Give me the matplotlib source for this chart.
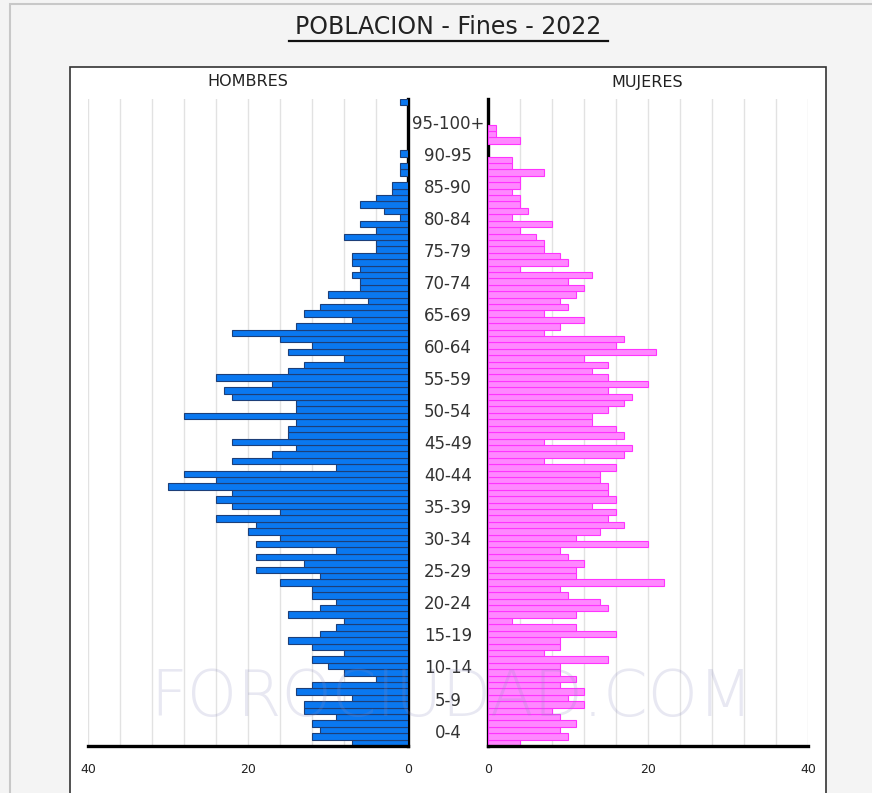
import numpy as np
import matplotlib.pyplot as plt
from matplotlib.patches import Rectangle
from matplotlib.lines import Line2D

# population by single year of age, 0 .. 100+
ages = np.arange(0, 101)
hombres = [7, 12, 11, 12, 9, 13, 13, 7, 14, 12,
           4, 8, 10, 12, 8, 12, 15, 11, 9, 8,
           15, 11, 9, 12, 12, 16, 11, 19, 13, 19,
           9, 19, 16, 20, 19, 24, 16, 22, 24, 22,
           30, 24, 28, 9, 22, 17, 14, 22, 15, 15,
           14, 28, 14, 14, 22, 23, 17, 24, 15, 13,
           8, 15, 12, 16, 22, 14, 7, 13, 11, 5,
           10, 6, 6, 7, 6, 7, 7, 4, 4, 8,
           4, 6, 1, 3, 6, 4, 2, 2, 0, 1,
           1, 0, 1, 0, 0, 0, 0, 0, 0, 0,
           1]
mujeres = [4, 10, 9, 11, 9, 8, 12, 10, 12, 9,
           11, 9, 9, 15, 7, 9, 9, 16, 11, 3,
           11, 15, 14, 10, 9, 22, 11, 11, 12, 10,
           9, 20, 11, 14, 17, 15, 16, 13, 16, 15,
           15, 14, 14, 16, 7, 17, 18, 7, 17, 16,
           13, 13, 15, 17, 18, 15, 20, 15, 13, 15,
           12, 21, 16, 17, 7, 9, 12, 7, 10, 9,
           11, 12, 10, 13, 4, 10, 9, 7, 7, 6,
           4, 8, 3, 5, 4, 4, 3, 4, 4, 7,
           3, 3, 0, 0, 4, 1, 1, 0, 0, 0,
           0]
grupos = ['0-4', '5-9', '10-14', '15-19', '20-24', '25-29', '30-34', '35-39',
          '40-44', '45-49', '50-54', '55-59', '60-64', '65-69', '70-74', '75-79',
          '80-84', '85-90', '90-95', '95-100+']

W, H = 872, 793
fig = plt.figure(figsize=(W / 100, H / 100), dpi=100, facecolor='#f4f4f4')

# outer frame and white panel (behind the axes)
fig.add_artist(Rectangle((10 / W, -0.01), 1, 1 - 4 / H + 0.01, transform=fig.transFigure,
                         facecolor='#f4f4f4', edgecolor='#c8c8c8', lw=1.5, zorder=-3))
fig.add_artist(Rectangle((70 / W, -0.01), 756 / W, (H - 67) / H + 0.01, transform=fig.transFigure,
                         facecolor='white', edgecolor='#333333', lw=1.2, zorder=-2))

fig.text(448 / W, 1 - 27 / H, 'POBLACION - Fines - 2022', ha='center', va='center',
         fontsize=17, color='#222222')
fig.add_artist(Line2D([289 / W, 608 / W], [1 - 41 / H, 1 - 41 / H], transform=fig.transFigure,
                      color='#111111', lw=1.6))

bot = (H - 746) / H
top = (H - 99) / H
axl = fig.add_axes([88 / W, bot, 320 / W, top - bot])
axr = fig.add_axes([488 / W, bot, 320 / W, top - bot])

# no outline on empty ages
lw_h = [0.8 if v > 0 else 0 for v in hombres]
lw_m = [0.8 if v > 0 else 0 for v in mujeres]
axl.barh(ages, hombres, height=1.0, color='#0a78f0', edgecolor='#1d3f78', linewidth=lw_h, zorder=3)
axr.barh(ages, mujeres, height=1.0, color='#ff88ff', edgecolor='#ff33ff', linewidth=lw_m, zorder=3)

for ax in (axl, axr):
    ax.set_ylim(-0.5, 100.5)
    ax.set_yticks([])
    ax.set_xticks([40, 20, 0])
    ax.set_xticklabels(['40', '20', '0'], fontsize=9, color='#222222')
    ax.tick_params(axis='x', length=0, pad=12)
    for g in range(4, 41, 4):
        ax.axvline(g, color='#e2e2e2', lw=1, zorder=1)
    ax.spines['top'].set_visible(False)
    ax.spines['bottom'].set_linewidth(2.4)
    ax.spines['bottom'].set_zorder(5)
    ax.patch.set_alpha(0)

axl.set_xlim(40, 0)
axl.spines['left'].set_visible(False)
axl.spines['right'].set_linewidth(2.4)
axr.set_xlim(0, 40)
axr.spines['right'].set_visible(False)
axr.spines['left'].set_linewidth(2.4)

# age group labels in the gap between the two halves
for i, g in enumerate(grupos):
    yc = 5 * i + 2
    axl.text(1 + 40 / 320, (yc + 0.1) / 101, g, transform=axl.transAxes, ha='center',
             va='center', fontsize=12, color='#333333')

fig.text(248 / W, 1 - 82 / H, 'HOMBRES', ha='center', va='center', fontsize=11.5, color='#222222')
fig.text(647 / W, 1 - 82 / H, 'MUJERES', ha='center', va='center', fontsize=11.5, color='#222222')

# watermark
fig.text(452 / W, 1 - 698 / H, 'FOROCIUDAD.COM', ha='center', va='center', fontsize=46,
         color='#8c8cc0', alpha=0.2, fontweight='light', zorder=10)

fig.savefig('out.png', dpi=100, facecolor=fig.get_facecolor())
